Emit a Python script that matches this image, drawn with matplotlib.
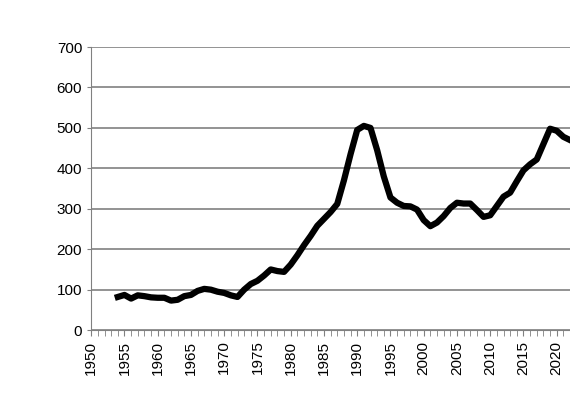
import numpy as np
from matplotlib import pyplot as plt

plt.rcParams['font.family'] = ['Liberation Sans', 'DejaVu Sans']

years = list(range(1954, 2023))
values = [82, 87, 78, 86, 84, 81, 80, 80, 73, 75,
          84, 87, 97, 102, 100, 95, 92, 86, 82, 100,
          114, 122, 135, 150, 146, 144, 162, 185, 210, 233,
          258, 275, 292, 312, 370, 435, 495, 505, 500, 445,
          380, 328, 315, 307, 306, 298, 272, 257, 266, 282,
          302, 315, 313, 313, 297, 280, 284, 307, 330, 340,
          368, 395, 410, 422, 460, 498, 493, 478, 470]

fig = plt.figure(figsize=(5.7, 4.2), dpi=100)
ax = fig.add_axes([0.16, 0.214, 0.84, 0.674])
ax.plot(years, values, color='black', linewidth=4.5, solid_joinstyle='round')

ax.set_xlim(1950, 2022)
ax.set_ylim(0, 700)
ax.set_yticks(range(0, 701, 100))
ax.set_xticks(range(1950, 2021, 5))
ax.set_xticks(range(1950, 2023), minor=True)
ax.tick_params(axis='x', rotation=90, labelsize=11, direction='out', length=4, which='both', color='#808080')
ax.tick_params(axis='y', labelsize=11, direction='out', length=3, color='#808080')
ax.yaxis.grid(True, color='#808080', linewidth=1.2)
ax.set_axisbelow(True)
for s in ['top', 'right']:
    ax.spines[s].set_visible(False)
ax.spines['left'].set_color('#808080')
ax.spines['bottom'].set_color('#808080')

fig.savefig('out.png')
